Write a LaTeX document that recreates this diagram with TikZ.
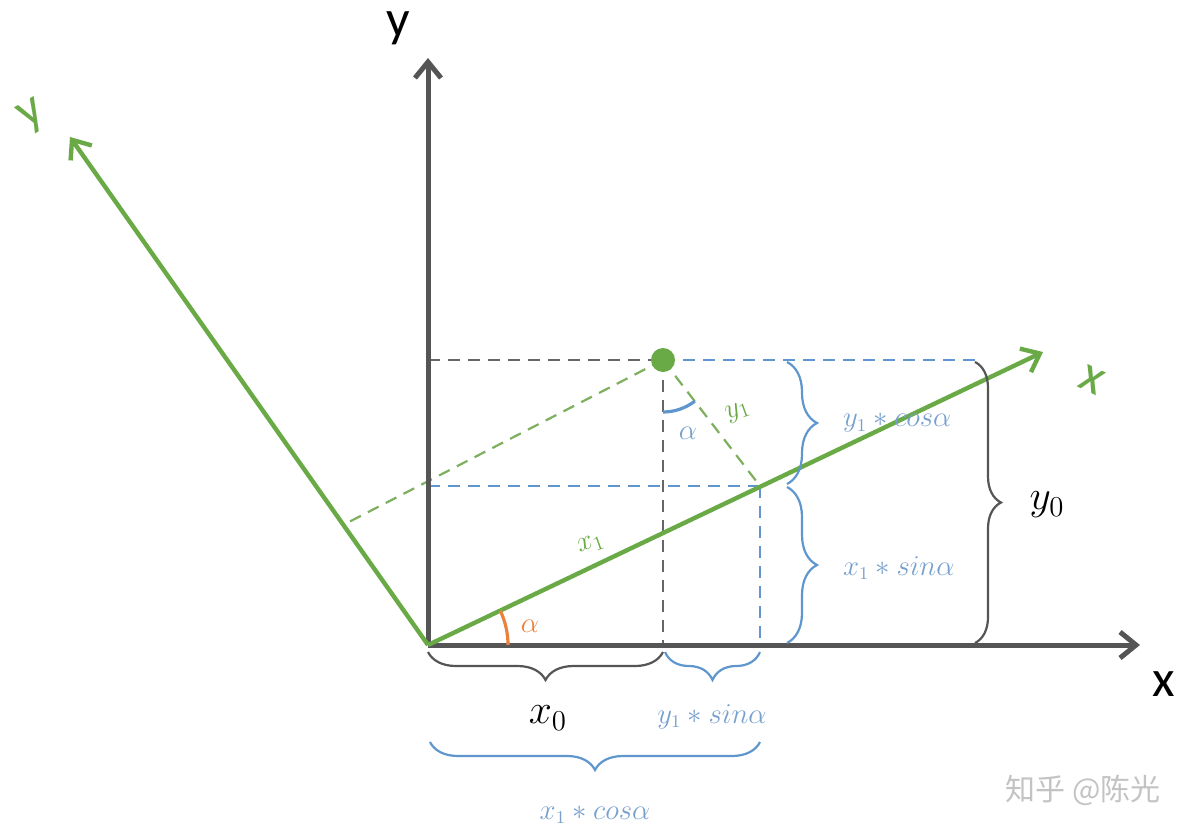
\documentclass[tikz,border=0pt]{standalone}
\usepackage{fontspec}
\setsansfont{Carlito}
\newfontfamily\cjk{Noto Sans CJK SC}
\usetikzlibrary{arrows.meta,decorations.pathreplacing,calc}
\definecolor{axgray}{RGB}{85,85,85}
\definecolor{grn}{RGB}{106,170,70}
\definecolor{grndash}{RGB}{125,175,95}
\definecolor{blu}{RGB}{95,150,205}
\definecolor{blutxt}{RGB}{120,160,205}
\definecolor{orng}{RGB}{232,130,60}
\definecolor{wm}{RGB}{195,195,195}
\tikzset{
  axis/.style={draw=axgray, line width=2.5pt, -{Straight Barb[length=8pt,width=13pt]}},
  gaxis/.style={draw=grn, line width=2.2pt, -{Straight Barb[length=8pt,width=13pt]}},
  kdash/.style={draw=axgray!90, line width=1.1pt, dash pattern=on 6pt off 4pt},
  bdash/.style={draw=blu, line width=1.1pt, dash pattern=on 6pt off 4pt},
  gdash/.style={draw=grndash, line width=1.1pt, dash pattern=on 6pt off 4pt},
  kbrace/.style={draw=axgray, line width=1.1pt, decorate, decoration={brace, amplitude=#1}},
  bbrace/.style={draw=blu, line width=1.1pt, decorate, decoration={brace, amplitude=#1}},
  axlbl/.style={font=\sffamily\fontsize{26}{30}\selectfont, text=black},
  galbl/.style={font=\sffamily\fontsize{26}{30}\selectfont, text=grn},
  frm/.style={font=\fontsize{13.5}{15}\selectfont, text=blutxt},
  big/.style={font=\fontsize{22}{26}\selectfont, text=black},
  dot/.style={circle, fill=grn, inner sep=0pt, minimum size=12pt}
}
\begin{document}
\begin{tikzpicture}[x=0.5pt,y=-0.5pt]
\useasboundingbox (0,0) rectangle (1197,829);
% key points
\coordinate (O) at (428,645);
\coordinate (Ytip) at (428,58);
\coordinate (Xtip) at (1140,645);
\coordinate (GXtip) at (1043,352);
\coordinate (GYtip) at (70,137);
\coordinate (F) at (760,486);   % foot on green x axis
\coordinate (G) at (345,524);   % foot on green y axis
\coordinate (YP) at (428,360);
\coordinate (XP) at (663,645);
\coordinate (R) at (975,360);
\coordinate (YF) at (428,486);
\coordinate (XF) at (760,645);

% dashed projections
\draw[kdash] (YP) -- (663,360);
\draw[kdash] (663,360) -- (XP);
\draw[bdash] (663,360) -- (R);
\draw[bdash] (YF) -- (F);
\draw[bdash] (F) -- (XF);
\draw[gdash] (663,360) -- (F);
\draw[gdash] (663,360) -- (G);

% axes
\draw[axis] (O) -- (Ytip);
\draw[axis] (O) -- (Xtip);
\draw[gaxis] (O) -- (GXtip);
\draw[gaxis] (O) -- (GYtip);

% point
\node[dot] (P) at (663,360) {};

% angles
\draw[orng, line width=1.6pt] ($(O)+(80,0)$) arc[start angle=0, end angle=-25.47, radius=80];
\node[text=orng, font=\fontsize{14}{16}\selectfont] (alo) at (530,626) {$\alpha$};
\draw[blu, line width=1.6pt] ($(P)+(0,52)$) arc[start angle=90, end angle=52.2, radius=52];
\node[text=blutxt, font=\fontsize{14}{16}\selectfont] (alb) at (688,433) {$\alpha$};

% axis labels
\node[axlbl] (ly) at (398,28) {y};
\node[axlbl] (lx) at (1164,684) {x};
\node[galbl, rotate=30] (gly) at (33,116) {y};
\node[galbl, rotate=-25] (glx) at (1092,380) {x};

% green labels
\node[text=grn, font=\fontsize{14}{16}\selectfont, rotate=20] (lx1) at (591,544) {$x_1$};
\node[text=grn, font=\fontsize{14}{16}\selectfont, rotate=20] (ly1) at (738,412) {$y_1$};

% right braces
\draw[bbrace=15pt] (787,362) -- (787,484);
\node[frm, anchor=west] (t1) at (836,423) {$y_1 \ast cos\alpha$};
\draw[bbrace=15pt] (787,487) -- (787,643);
\node[frm, anchor=west] (t2) at (836,568) {$x_1 \ast sin\alpha$};
\draw[kbrace=13pt] (975,362) -- (975,643);
\node[big] (y0) at (1047,505) {$y_0$};

% bottom braces
\draw[kbrace=14pt] (663,652) -- (428,652);
\node[big] (x0) at (548,718) {$x_0$};
\draw[bbrace=14pt] (760,652) -- (665,652);
\node[frm] (t3) at (712,717) {$y_1 \ast sin\alpha$};
\draw[bbrace=14pt] (760,742) -- (430,742);
\node[frm] (t4) at (595,815) {$x_1 \ast cos\alpha$};

% watermark
\node[text=wm, font=\cjk\fontsize{15}{18}\selectfont] (wmk) at (1083,790) {知乎 @陈光};
\end{tikzpicture}
\end{document}
